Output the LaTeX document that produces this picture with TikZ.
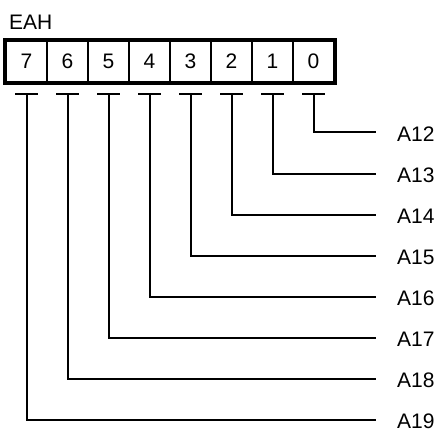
\documentclass[tikz,border=0pt]{standalone}
\usepackage{fontspec}
\setmainfont{Liberation Sans}
\begin{document}
\begin{tikzpicture}[x=1pt, y=1pt,
  bitcell/.style={draw, line width=1.5pt, minimum width=41pt, minimum height=41pt,
    inner sep=0pt, font=\fontsize{21}{25}\selectfont},
  addr/.style={anchor=west, inner sep=0pt, font=\fontsize{21}{25}\selectfont},
  wire/.style={line width=2pt}]
\useasboundingbox (0,0) rectangle (441,429);
\node[anchor=base west, inner sep=0pt, font=\fontsize{21}{25}\selectfont] (eah) at (9,399) {EAH};
% register cells, bit 7 on the left
\foreach \i in {0,...,7}
  \node[bitcell] (b\i) at ({313.5-41*\i}, 367.5) {\i};
\draw[line width=4pt] (b7.north west) rectangle (b0.south east);
% one address line per bit
\foreach \i [evaluate=\i as \n using int(12+\i)] in {0,...,7} {
  \coordinate (t\i) at ([yshift=-11.5pt]b\i.south);
  \coordinate (e\i) at (376, {296.5-41*\i});
  \node[addr] (a\n) at ([xshift=21pt, yshift=-1.5pt]e\i) {A\n};
  \draw[wire] ([xshift=-11.5pt]t\i) -- ([xshift=11.5pt]t\i);
  \draw[wire] (t\i) |- (e\i);
}
\end{tikzpicture}
\end{document}
